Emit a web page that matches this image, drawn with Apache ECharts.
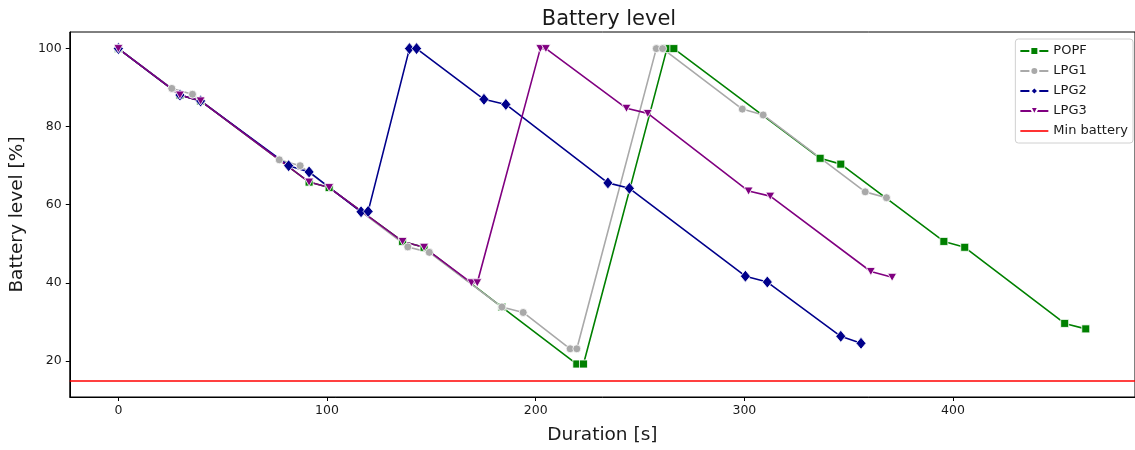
<!DOCTYPE html>
<html>
<head>
<meta charset="utf-8">
<title>Battery level</title>
<script src="https://cdn.jsdelivr.net/npm/echarts@6/dist/echarts.min.js"></script>
<style>
    html, body { margin: 0; padding: 0; background: #fff; }
    #chart { width: 1135px; height: 450px; }
</style>
</head>
<body>
<div id="chart"></div>
<script>
// Values
const popfTime  = [0, 29.5, 39.4, 91.4, 101, 136.2, 146.5, 183.8, 219.7, 222.9, 262.9, 266.2, 336.3, 346.2, 395.6, 405.6, 453.5, 463.6];
const popfLevel = [100, 88.1, 86.6, 65.8, 64.4, 50.6, 49.1, 33.8, 19.2, 19.2, 100, 100, 71.9, 70.4, 50.6, 49.1, 29.6, 28.2];

const lpg1Time  = [0, 25.6, 35.5, 77.1, 87.1, 138.7, 149, 183.8, 194, 216.5, 219.7, 257.8, 260.8, 299, 309, 357.9, 368.1];
const lpg1Level = [100, 89.8, 88.3, 71.5, 70, 49.2, 47.8, 33.8, 32.4, 23.1, 23.1, 100, 100, 84.5, 83, 63.3, 61.8];

const lpg2Time  = [0, 29.5, 39.4, 81.6, 91.4, 116.3, 119.7, 139.5, 142.9, 175.2, 185.7, 234.6, 244.9, 300.5, 311, 346.2, 355.9];
const lpg2Level = [100, 88.1, 86.6, 70, 68.4, 58.2, 58.3, 100, 100, 87, 85.7, 65.6, 64.2, 41.7, 40.2, 26.3, 24.5];

const lpg3Time  = [0, 29.5, 39.4, 91.4, 101, 136.2, 146.5, 169.2, 172, 202.2, 204.9, 243.5, 253.7, 302, 312.4, 360.6, 370.8];
const lpg3Level = [100, 88.1, 86.6, 65.8, 64.4, 50.6, 49.1, 40, 40, 100, 100, 84.7, 83.4, 63.5, 62.2, 42.9, 41.4];

const minBattery = 15;
const xTicks = [0, 100, 200, 300, 400];
const yTicks = [20, 40, 60, 80, 100];

function pairs(xs, ys) {
    return xs.map((x, i) => [x, ys[i]]);
}

const chart = echarts.init(document.getElementById("chart"), null, { renderer: "canvas" });

const font = "DejaVu Sans";
const ink = "#1a1a1a";

function planSeries(name, color, data, symbol, size, rotate) {
    return {
        name: name,
        type: "line",
        data: data,
        symbol: symbol,
        symbolSize: size,
        symbolRotate: rotate || 0,
        showSymbol: true,
        animation: false,
        lineStyle: { color: color, width: 1.6 },
        itemStyle: { color: color, borderColor: "#fff", borderWidth: 0.8 },
        emphasis: { disabled: true },
    };
}

chart.setOption({
    animation: false,
    backgroundColor: "#fff",
    textStyle: { fontFamily: font },
    title: {
        text: "Battery level",
        left: 604,
        top: 4,
        textAlign: "center",
        textStyle: { fontFamily: font, fontSize: 21, fontWeight: "normal", color: ink },
    },
    grid: {
        left: 69,
        right: -6,
        top: 32,
        bottom: 50,
        show: true,
        borderColor: "#000",
        borderWidth: 1,
        backgroundColor: "transparent",
    },
    legend: {
        orient: "vertical",
        right: 2,
        top: 39,
        padding: [5, 5, 5, 4],
        itemWidth: 28,
        itemHeight: 10,
        itemGap: 6,
        backgroundColor: "rgba(255,255,255,0.85)",
        borderColor: "#d0d0d0",
        borderWidth: 1,
        borderRadius: 3,
        textStyle: { fontFamily: font, fontSize: 13, color: ink, lineHeight: 14 },
        data: [
            "POPF",
            "LPG1",
            "LPG2",
            "LPG3",
            { name: "Min battery", icon: "path://M0,0L28,0L28,1.6L0,1.6Z" },
        ],
    },
    xAxis: {
        type: "value",
        min: -23.3,
        max: 487.2,
        name: "Duration [s]",
        nameLocation: "middle",
        nameGap: 29,
        nameTextStyle: { fontFamily: font, fontSize: 18.5, color: ink },
        splitLine: { show: false },
        axisLine: { show: true, onZero: false, lineStyle: { color: "#000", width: 1 } },
        axisTick: { show: true, length: 4, customValues: xTicks, lineStyle: { color: "#000" } },
        axisLabel: { customValues: xTicks, margin: 7, fontFamily: font, fontSize: 12.5, color: ink },
    },
    yAxis: {
        type: "value",
        min: 10.75,
        max: 104.25,
        name: "Battery level [%]",
        nameLocation: "middle",
        nameGap: 42,
        nameTextStyle: { fontFamily: font, fontSize: 18.5, color: ink },
        splitLine: { show: false },
        axisLine: { show: true, onZero: false, lineStyle: { color: "#000", width: 1 } },
        axisTick: { show: true, length: 4, customValues: yTicks, lineStyle: { color: "#000" } },
        axisLabel: { customValues: yTicks, margin: 8, fontFamily: font, fontSize: 12.5, color: ink },
    },
    series: [
        planSeries("POPF", "#008000", pairs(popfTime, popfLevel), "rect", 8),
        planSeries("LPG1", "#a9a9a9", pairs(lpg1Time, lpg1Level), "circle", 8),
        planSeries("LPG2", "#00008b", pairs(lpg2Time, lpg2Level), "diamond", [10, 12]),
        planSeries("LPG3", "#800080", pairs(lpg3Time, lpg3Level), "triangle", [9, 8], 180),
        {
            name: "Min battery",
            type: "line",
            data: [],
            symbol: "none",
            animation: false,
            lineStyle: { color: "#ff0000", width: 1.6 },
            itemStyle: { color: "#ff0000" },
            markLine: {
                silent: true,
                symbol: "none",
                animation: false,
                label: { show: false },
                lineStyle: { color: "#ff0000", width: 1.6, type: "solid" },
                data: [{ yAxis: minBattery }],
            },
        },
    ],
});
</script>
</body>
</html>
